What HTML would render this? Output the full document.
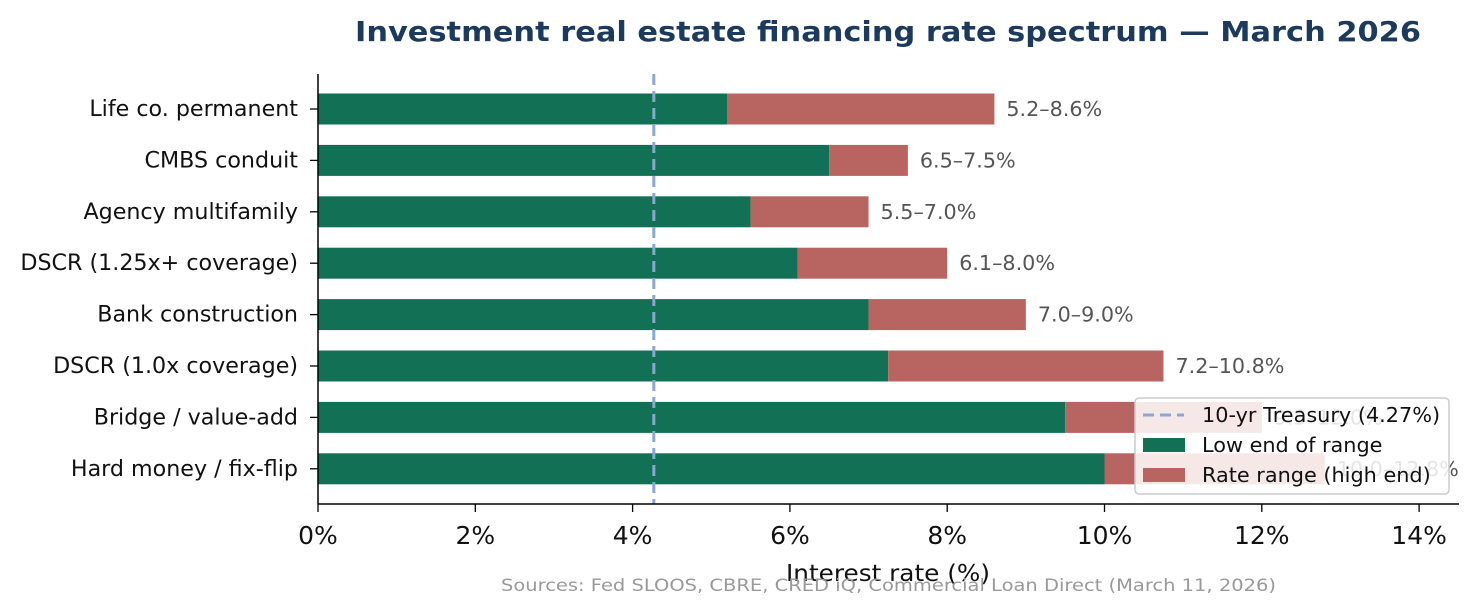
<!DOCTYPE html>
<html><head><meta charset="utf-8"><style>
body{margin:0;background:#fff;}
svg{display:block;font-family:"DejaVu Sans","Liberation Sans",sans-serif;}
</style></head><body>
<svg id="c" width="1479" height="614">
<text x="355" y="41" textLength="1066" lengthAdjust="spacingAndGlyphs" font-size="28" font-weight="bold" fill="#1c3a5e">Investment real estate financing rate spectrum — March 2026</text>
<g id="plot"></g>
<text x="786" y="581" textLength="204" lengthAdjust="spacingAndGlyphs" font-size="23" fill="#111">Interest rate (%)</text>
<text x="501" y="591" textLength="775" lengthAdjust="spacingAndGlyphs" font-size="17" fill="#999">Sources: Fed SLOOS, CBRE, CRED iQ, Commercial Loan Direct (March 11, 2026)</text>
</svg>
<script>
const categories=["Life co. permanent","CMBS conduit","Agency multifamily","DSCR (1.25x+ coverage)","Bank construction","DSCR (1.0x coverage)","Bridge / value-add","Hard money / fix-flip"];
const lowValues=[5.2,6.5,5.5,6.1,7.0,7.25,9.5,10.0];
const highValues=[8.6,7.5,7.0,8.0,9.0,10.75,12.0,12.8];
const rangeLabels=["5.2–8.6%","6.5–7.5%","5.5–7.0%","6.1–8.0%","7.0–9.0%","7.2–10.8%","9.5–12.0%","10.0–12.8%"];
const xTicks=[0,2,4,6,8,10,12,14];
const treasury=4.27;
const NS="http://www.w3.org/2000/svg";
const plotG=document.getElementById('plot');
const x0=318,pxPer=78.65,yTop=74,yBottom=504,rowStep=51.4,firstRow=109,barH=31;
const X=v=>x0+v*pxPer;
const Y=i=>firstRow+i*rowStep;
function el(t,a,txt){const e=document.createElementNS(NS,t);for(const k in a)e.setAttribute(k,a[k]);if(txt!==undefined)e.textContent=txt;plotG.appendChild(e);return e;}
categories.forEach((c,i)=>{
 const b1=el('rect',{x:X(0),y:Y(i)-barH/2,width:X(lowValues[i])-X(0),height:barH,fill:'#127055'});
 
 
 const b2=el('rect',{x:X(lowValues[i]),y:Y(i)-barH/2,width:X(highValues[i])-X(lowValues[i]),height:barH,fill:'#b86461'});
 
 
 const t=el('text',{x:X(highValues[i])+12,y:Y(i)+7,'font-size':20.7,fill:'#555'},rangeLabels[i]);
 
 
 const l=el('text',{x:298,y:Y(i)+7,'text-anchor':'end','font-size':22.2,fill:'#111'},c);
 
 
 el('line',{x1:310,x2:318,y1:Y(i),y2:Y(i),stroke:'#000','stroke-width':1.3});
});
const tl=el('line',{x1:X(treasury),x2:X(treasury),y1:yTop,y2:yBottom,stroke:'#88a8d0','stroke-width':3,'stroke-dasharray':'11,6'});


el('line',{x1:318,x2:318,y1:yTop,y2:yBottom,stroke:'#000','stroke-width':1.5});
el('line',{x1:318,x2:1459,y1:yBottom,y2:yBottom,stroke:'#000','stroke-width':1.5});
xTicks.forEach(v=>{
 el('line',{x1:X(v),x2:X(v),y1:yBottom,y2:yBottom+8,stroke:'#000','stroke-width':1.3});
 const t=el('text',{x:X(v),y:yBottom+40,'text-anchor':'middle','font-size':25,fill:'#111'},v+'%');
 
 
});
const lg=el('g',{});


const box=document.createElementNS(NS,'rect');
[['x',1135],['y',398],['width',314],['height',96],['rx',4],['fill','rgba(255,255,255,0.85)'],['stroke','#ccc'],['stroke-width',1.5]].forEach(a=>box.setAttribute(a[0],a[1]));
lg.appendChild(box);
const items=[['line','10-yr Treasury (4.27%)'],['#127055','Low end of range'],['#b86461','Rate range (high end)']];
items.forEach((it,k)=>{
 const y=415+k*30;
 if(it[0]==='line'){const ln=document.createElementNS(NS,'line');[['x1',1143],['x2',1184],['y1',y],['y2',y],['stroke','#88a8d0'],['stroke-width',3],['stroke-dasharray','11,6']].forEach(a=>ln.setAttribute(a[0],a[1]));lg.appendChild(ln);}
 else{const r=document.createElementNS(NS,'rect');[['x',1143],['y',y-7],['width',42],['height',14],['fill',it[0]]].forEach(a=>r.setAttribute(a[0],a[1]));lg.appendChild(r);}
 const t=document.createElementNS(NS,'text');
 [['x',1202],['y',y+7],['font-size',20.8],['fill','#111']].forEach(a=>t.setAttribute(a[0],a[1]));
 t.textContent=it[1];
 
 
 lg.appendChild(t);
});
</script>
</body></html>
